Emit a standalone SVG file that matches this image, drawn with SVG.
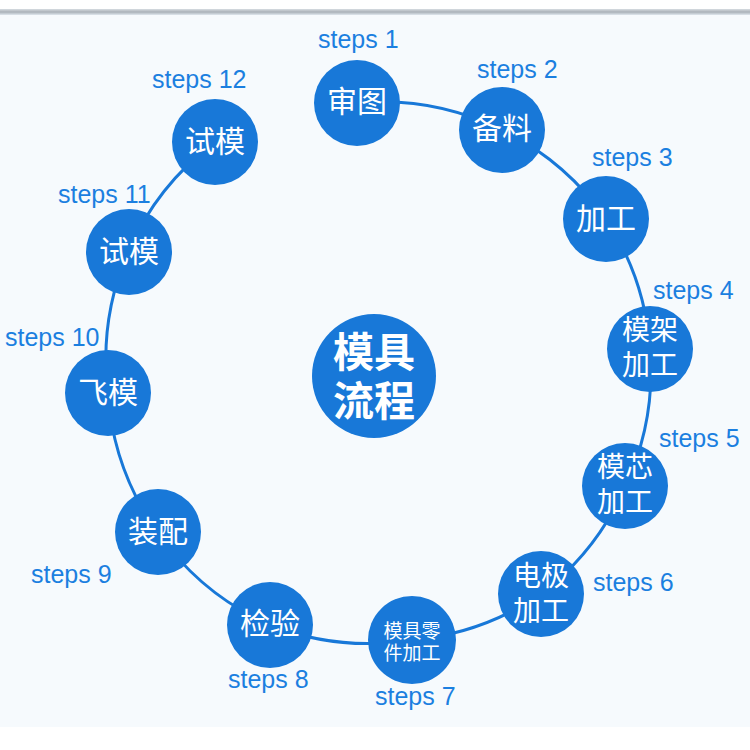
<svg xmlns="http://www.w3.org/2000/svg" width="750" height="750" viewBox="0 0 750 750">
<defs>
<linearGradient id="topline" x1="0" y1="0" x2="0" y2="1">
<stop offset="0" stop-color="#d8dde2"/>
<stop offset="0.5" stop-color="#a9b1b8"/>
<stop offset="1" stop-color="#dfe7ee"/>
</linearGradient>
</defs>
<style>
.node{fill:#1878d8}
.nt{fill:#ffffff;font-family:"Noto Sans CJK SC","Noto Sans",sans-serif;text-anchor:middle}
.lbl{fill:#1b7fe0;font-family:"Liberation Sans",Arial,sans-serif;font-size:25px}
.ring{fill:none;stroke:#1878d8;stroke-width:3}
</style>
<rect x="0" y="0" width="750" height="750" fill="#ffffff"/>
<rect x="0" y="13" width="750" height="714" fill="#f6fafd"/>
<rect x="0" y="9" width="750" height="6" fill="url(#topline)"/>

<g id="connectors">
<path class="ring" d="M357,103 A272,272 0 0 1 502,130 A272,272 0 0 1 606,219 A272,272 0 0 1 650,349 A272,272 0 0 1 625,487 A272,272 0 0 1 541,594 A272,272 0 0 1 412,640 A272,272 0 0 1 270,625 A272,272 0 0 1 158,533 A272,272 0 0 1 108,393 A272,272 0 0 1 128,252 A272,272 0 0 1 215,142"/>
</g>

<g id="center">
<circle class="node" cx="374" cy="376" r="62"/>
<text class="nt" x="374" y="367" font-size="41" font-weight="bold">模具<tspan x="374" dy="49">流程</tspan></text>
</g>

<g id="n1">
<circle class="node" cx="357" cy="103" r="43"/>
<text class="nt" x="357" y="112" font-size="30">审图</text>
<text class="lbl" x="318" y="48">steps 1</text>
</g>
<g id="n2">
<circle class="node" cx="502" cy="130" r="43"/>
<text class="nt" x="502" y="139" font-size="30">备料</text>
<text class="lbl" x="477" y="78">steps 2</text>
</g>
<g id="n3">
<circle class="node" cx="606" cy="219" r="43"/>
<text class="nt" x="606" y="229" font-size="30">加工</text>
<text class="lbl" x="592" y="166">steps 3</text>
</g>
<g id="n4">
<circle class="node" cx="650" cy="349" r="43"/>
<text class="nt" x="650" y="340" font-size="28">模架<tspan x="650" dy="35">加工</tspan></text>
<text class="lbl" x="653" y="299">steps 4</text>
</g>
<g id="n5">
<circle class="node" cx="625" cy="486" r="43"/>
<text class="nt" x="625" y="477" font-size="28">模芯<tspan x="625" dy="35">加工</tspan></text>
<text class="lbl" x="659" y="447">steps 5</text>
</g>
<g id="n6">
<circle class="node" cx="541" cy="594" r="43"/>
<text class="nt" x="541" y="586" font-size="28">电极<tspan x="541" dy="35">加工</tspan></text>
<text class="lbl" x="593" y="591">steps 6</text>
</g>
<g id="n7">
<circle class="node" cx="412" cy="640" r="44"/>
<text class="nt" x="412" y="638" font-size="19">模具零<tspan x="412" dy="22">件加工</tspan></text>
<text class="lbl" x="375" y="705">steps 7</text>
</g>
<g id="n8">
<circle class="node" cx="270" cy="625" r="43"/>
<text class="nt" x="270" y="634" font-size="30">检验</text>
<text class="lbl" x="228" y="688">steps 8</text>
</g>
<g id="n9">
<circle class="node" cx="158" cy="532" r="43"/>
<text class="nt" x="158" y="542" font-size="30">装配</text>
<text class="lbl" x="31" y="583">steps 9</text>
</g>
<g id="n10">
<circle class="node" cx="108" cy="393" r="43"/>
<text class="nt" x="108" y="403" font-size="30">飞模</text>
<text class="lbl" x="5" y="346">steps 10</text>
</g>
<g id="n11">
<circle class="node" cx="129" cy="252" r="43"/>
<text class="nt" x="129" y="262" font-size="30">试模</text>
<text class="lbl" x="58" y="203">steps 11</text>
</g>
<g id="n12">
<circle class="node" cx="215" cy="142" r="43"/>
<text class="nt" x="215" y="152" font-size="30">试模</text>
<text class="lbl" x="152" y="88">steps 12</text>
</g>
</svg>
